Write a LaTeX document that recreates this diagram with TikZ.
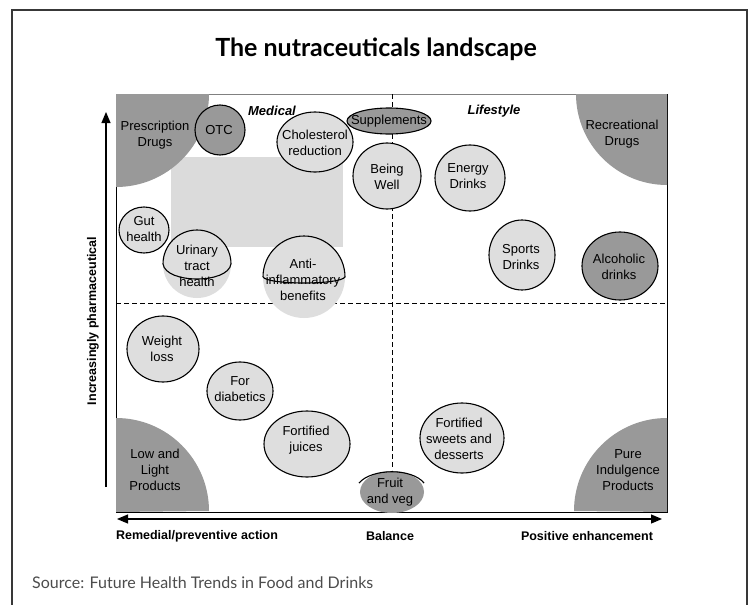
\documentclass[tikz,border=0pt]{standalone}
\usepackage{fontspec}
\setmainfont{Liberation Sans}
\newfontfamily\titlefont{Lato}
\usetikzlibrary{arrows.meta}
\definecolor{bubblefill}{gray}{0.87}
\definecolor{cornerfill}{gray}{0.6}
\definecolor{panelfill}{gray}{0.86}
\definecolor{framegray}{gray}{0.22}
\definecolor{sourcegray}{gray}{0.3}

\begin{document}
\begin{tikzpicture}[%
  x = 1pt, y = -1pt,
  bubble/.style = {draw, fill = bubblefill, line width = 1.1pt},
  darkbubble/.style = {draw, fill = cornerfill, line width = 1.1pt},
  corner/.style = {fill = cornerfill},
  lbl/.style = {align = center, inner sep = 0pt, font = \fontsize{13}{16}\selectfont},
  axislbl/.style = {inner sep = 0pt, font = \bfseries\fontsize{12.5}{15}\selectfont},
  sector/.style = {inner sep = 0pt, font = \bfseries\itshape\fontsize{13}{15}\selectfont},
  divider/.style = {line width = 0.8pt, dash pattern = on 5pt off 3pt},
  axis/.style = {{Triangle[length = 11pt, width = 9pt]}-{Triangle[length = 11pt, width = 9pt]}, line width = 1.2pt}]
  \useasboundingbox (0, 0) rectangle (753, 605);
  \fill[white] (0, 0) rectangle (753, 605);
  \draw[framegray, line width = 2.5pt] (12, 612) -- (12, 10) -- (747, 10) -- (747, 612);

  \node[font = \titlefont\bfseries\fontsize{25}{28}\selectfont] (title) at (376, 49) {The nutraceuticals landscape};

  % frame of the map
  \draw[gray, line width = 0.8pt] (116, 94) -- (667, 94);
  \draw[line width = 0.8pt] (667, 94) -- (667, 512) -- (116, 512) -- (116, 94);
  \fill[panelfill] (171, 157) rectangle (343, 247);
  \draw[divider] (392, 94) -- (392, 470);
  \draw[divider] (116, 303) -- (667, 303);

  % corners
  \fill[corner] (116, 94) -- (209, 94) arc[start angle = 0, end angle = -90, radius = 93pt] -- cycle;
  \fill[corner] (667, 94) -- (576, 94) arc[start angle = 180, end angle = 270, radius = 91pt] -- cycle;
  \fill[corner] (116, 512) -- (116, 418) arc[start angle = 90, end angle = 0, radius = 93pt] -- cycle;
  \fill[corner] (667, 512) -- (667, 418) arc[start angle = 90, end angle = 180, radius = 93pt] -- cycle;
  \node[lbl] (presc) at (155, 135) {Prescription\\Drugs};
  \node[lbl] (recre) at (622, 134) {Recreational\\Drugs};
  \node[lbl] (lowlight) at (155, 470) {Low and\\Light\\Products};
  \node[lbl] (indulge) at (628, 470) {Pure\\Indulgence\\Products};

  \node[sector] (medical) at (272, 111) {Medical};
  \node[sector] (lifestyle) at (494, 111) {Lifestyle};

  % bubbles
  \draw[darkbubble] (220, 130) circle[radius = 25pt];
  \node[lbl] (otc) at (219, 130) {OTC};
  \draw[darkbubble] (389, 121) ellipse[x radius = 42pt, y radius = 13pt];
  \node[lbl] (suppl) at (389, 121) {Supplements};
  \draw[bubble] (315, 142) ellipse[x radius = 38pt, y radius = 30pt];
  \node[lbl] (chol) at (315, 143) {Cholesterol\\reduction};
  \draw[bubble] (387, 176) ellipse[x radius = 34pt, y radius = 33pt];
  \node[lbl] (well) at (387, 177) {Being\\Well};
  \draw[bubble] (470, 178) ellipse[x radius = 35pt, y radius = 33pt];
  \node[lbl] (energy) at (468, 176) {Energy\\Drinks};
  \draw[bubble] (522, 255) ellipse[x radius = 33pt, y radius = 35pt];
  \node[lbl] (sports) at (521, 257) {Sports\\Drinks};
  \draw[darkbubble] (620, 266) ellipse[x radius = 38pt, y radius = 34pt];
  \node[lbl] (alcohol) at (619, 267) {Alcoholic\\drinks};
  \draw[bubble] (144, 230) ellipse[x radius = 25pt, y radius = 23pt];
  \node[lbl] (gut) at (144, 229) {Gut\\health};

  \fill[bubblefill] (197, 264) circle[radius = 34pt];
  \draw[line width = 1.1pt] (163, 264) arc[start angle = 180, end angle = 0, radius = 34pt]
    .. controls (228, 284) and (166, 284) .. (163, 264);
  \node[lbl] (urinary) at (197, 266) {Urinary\\tract\\health};
  \fill[bubblefill] (304, 277) circle[radius = 41pt];
  \draw[line width = 1.1pt] (263, 277) arc[start angle = 180, end angle = 0, radius = 41pt]
    .. controls (340, 285) and (268, 285) .. (263, 277);
  \node[lbl] (antiinfl) at (303, 280) {Anti-\\inflammatory\\benefits};

  \draw[bubble] (163, 349) ellipse[x radius = 36pt, y radius = 33pt];
  \node[lbl] (weight) at (162, 349) {Weight\\loss};
  \draw[bubble] (240, 391) ellipse[x radius = 33pt, y radius = 29pt];
  \node[lbl] (diabet) at (240, 389) {For\\diabetics};
  \draw[bubble] (307, 444) ellipse[x radius = 43pt, y radius = 33pt];
  \node[lbl] (juices) at (306, 440) {Fortified\\juices};
  \draw[bubble] (462, 438) ellipse[x radius = 42pt, y radius = 35pt];
  \node[lbl] (sweets) at (459, 439) {Fortified\\sweets and\\desserts};
  \fill[cornerfill] (392, 492) ellipse[x radius = 32pt, y radius = 21pt];
  \draw[line width = 1.1pt] (359, 483) .. controls (372, 468) and (412, 468) .. (424, 483);
  \node[lbl] (fruit) at (390, 492) {Fruit\\and veg};

  % axes
  \coordinate (hleft) at (117, 519);
  \coordinate (hright) at (662, 519);
  \coordinate (vlow) at (106, 487);
  \coordinate (vtop) at (106, 112);
  \draw[axis] (hleft) -- (hright);
  \draw[-{Triangle[length = 11pt, width = 9pt]}, line width = 1.2pt] (vlow) -- (vtop);
  \node[axislbl] (remedial) at (197, 536) {Remedial/preventive action};
  \node[axislbl] (balance) at (390, 536) {Balance};
  \node[axislbl] (positive) at (587, 536) {Positive enhancement};
  \node[axislbl, rotate = 90] (pharma) at (93, 321) {Increasingly pharmaceutical};

  \node[anchor = west, inner sep = 0pt, text = sourcegray, font = \titlefont\fontsize{16}{18}\selectfont] (source) at (32, 583) {Source: Future Health Trends in Food and Drinks};
\end{tikzpicture}
\end{document}
